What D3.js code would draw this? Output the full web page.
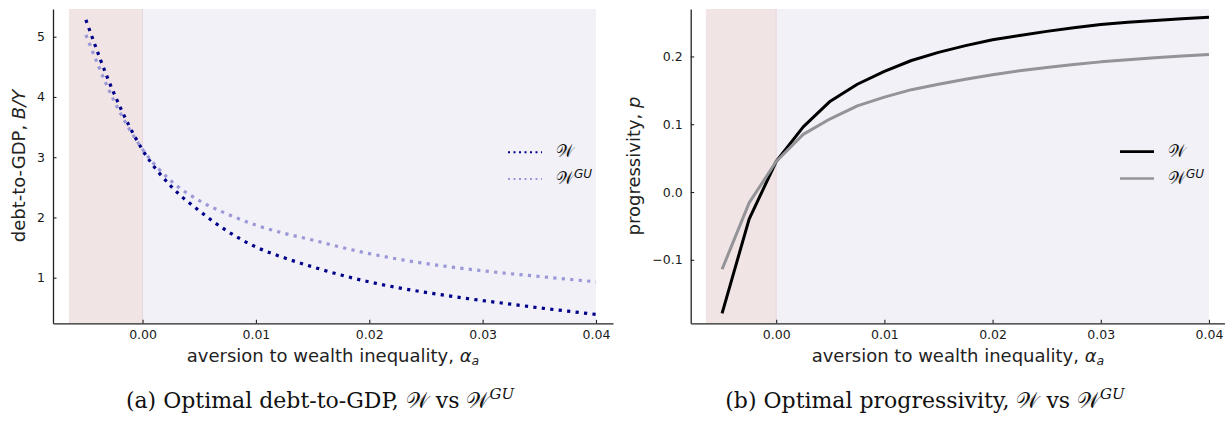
<!DOCTYPE html>
<html><head><meta charset="utf-8">
<script src="https://cdn.jsdelivr.net/npm/d3@7"></script>
<style>body{margin:0;background:#fff} svg{display:block}</style>
</head><body><svg id="c" width="1225" height="423"></svg>
<script>
// ---- data ----
const alpha = [-0.005, -0.0025, 0, 0.0025, 0.005, 0.0075, 0.01, 0.0125, 0.015, 0.0175, 0.02, 0.0225, 0.025, 0.0275, 0.03, 0.0325, 0.035, 0.0375, 0.04];
const debtW  = [5.28, 4.05, 3.12, 2.52, 2.11, 1.77, 1.51, 1.33, 1.18, 1.045, 0.93, 0.835, 0.755, 0.685, 0.62, 0.56, 0.50, 0.445, 0.39];
const debtGU = [5.03, 3.93, 3.13, 2.61, 2.28, 2.055, 1.873, 1.736, 1.625, 1.505, 1.40, 1.31, 1.235, 1.17, 1.115, 1.065, 1.02, 0.975, 0.932];
const progW  = [-0.179, -0.040, 0.045, 0.096, 0.134, 0.159, 0.178, 0.194, 0.206, 0.216, 0.2245, 0.231, 0.237, 0.2425, 0.247, 0.2505, 0.253, 0.2555, 0.2577];
const progGU = [-0.114, -0.016, 0.045, 0.085, 0.108, 0.127, 0.140, 0.151, 0.159, 0.1665, 0.173, 0.1788, 0.1838, 0.188, 0.192, 0.195, 0.198, 0.2005, 0.203];
const xTicks = [0, 0.01, 0.02, 0.03, 0.04];
const debtTicks = [1, 2, 3, 4, 5];
const progTicks = [-0.1, 0, 0.1, 0.2];
const shadeStart = -0.0065, shadeEnd = 0, bgEnd = 0.04;
const seriesLabel = "\u{1D4B2}";
const seriesSup = "GU";
const xLabel = "aversion to wealth inequality, ";
const captions = ["(a) Optimal debt-to-GDP, ", "(b) Optimal progressivity, "];

const svg = d3.select("#c");
svg.append("rect").attr("width",1225).attr("height",423).attr("fill","#fff");

const TOP = 9, BOT = 323.3;
const xDom = [-0.0079, 0.0415];

function panel(cfg){
  const g = svg.append("g");
  const x = d3.scaleLinear().domain(xDom).range([cfg.x0, cfg.x1]);
  const y = d3.scaleLinear().domain(cfg.yDom).range([BOT, TOP]);
  // backgrounds
  g.append("rect").attr("x", x(shadeEnd)).attr("y", TOP).attr("width", x(bgEnd)-x(shadeEnd)).attr("height", BOT-TOP).attr("fill", "#f2f1f8");
  g.append("rect").attr("x", x(shadeStart)).attr("y", TOP).attr("width", x(shadeEnd)-x(shadeStart)).attr("height", BOT-TOP).attr("fill", "#f1e4e5");
  g.append("line").attr("x1", x(0)).attr("x2", x(0)).attr("y1", TOP).attr("y2", BOT).attr("stroke","#e6d6dc").attr("stroke-width",1);
  // lines
  const line = d3.line().x((d,i)=>x(alpha[i])).y(d=>y(d)).curve(cfg.curve);
  cfg.series.forEach(s=>{
    g.append("path").attr("d", line(s.values)).attr("fill","none").attr("stroke", s.color)
      .attr("stroke-width", s.width).attr("stroke-dasharray", s.dash || null)
      .attr("stroke-linejoin","round");
  });
  // axes
  const ax = g.append("g").attr("transform", `translate(0,${BOT})`)
    .call(d3.axisBottom(x).tickValues(xTicks).tickFormat(d3.format(".2f")).tickSizeInner(-3.5).tickSizeOuter(0).tickPadding(7.3));
  const ay = g.append("g").attr("transform", `translate(${cfg.x0},0)`)
    .call(d3.axisLeft(y).tickValues(cfg.yTicks).tickFormat(cfg.yFmt).tickSizeInner(-3.5).tickSizeOuter(0).tickPadding(8));
  [ax, ay].forEach(a=>{
    a.selectAll("text").attr("font-family","DejaVu Sans").attr("font-size","12.5px").attr("fill","#1a1a1a");
    a.select(".domain").attr("stroke","#222").attr("stroke-width",1.3);
    a.selectAll(".tick line").attr("stroke","#222").attr("stroke-width",1.1);
  });
  // x label
  const xl = g.append("text").attr("x", (cfg.x0+cfg.x1)/2).attr("y", 362).attr("text-anchor","middle")
    .attr("font-family","DejaVu Sans").attr("font-size","18px").attr("fill","#222");
  xl.append("tspan").text(xLabel);
  xl.append("tspan").attr("font-style","italic").text("\u03B1");
  xl.append("tspan").attr("font-style","italic").attr("font-size","12.5px").attr("dy","3").text("a");
  // y label
  const yl = g.append("text").attr("transform", `translate(${cfg.yLabX},166) rotate(-90)`).attr("text-anchor","middle")
    .attr("font-family","DejaVu Sans").attr("font-size","18px").attr("fill","#222");
  yl.append("tspan").text(cfg.yLab[0]);
  yl.append("tspan").attr("font-style","italic").text(cfg.yLab[1]);
  // legend
  cfg.series.forEach((s,i)=>{
    const ly = cfg.legY + i*26.8;
    g.append("line").attr("x1", cfg.legX).attr("x2", cfg.legX+34).attr("y1", ly).attr("y2", ly)
      .attr("stroke", s.color).attr("stroke-width", s.legWidth).attr("stroke-dasharray", s.legDash || null);
    const t = g.append("text").attr("x", cfg.legX+48).attr("y", ly+5).attr("font-family","DejaVu Serif, serif").attr("font-size","17px").attr("fill","#111");
    t.append("tspan").text(seriesLabel);
    if(i===1) t.append("tspan").attr("font-family","DejaVu Sans").attr("font-style","italic").attr("font-size","12px").attr("dy","-6").text(seriesSup);
  });
  // caption
  const c = g.append("text").attr("x", cfg.capX).attr("y", 408).attr("text-anchor","middle")
    .attr("font-family","DejaVu Serif").attr("font-size","22px").attr("fill","#111");
  c.append("tspan").text(cfg.caption);
  c.append("tspan").text(seriesLabel);
  c.append("tspan").text(" vs ");
  c.append("tspan").text(seriesLabel);
  c.append("tspan").attr("font-style","italic").attr("font-size","15px").attr("dy","-9").text(seriesSup);
}

panel({x0:53, x1:613, yDom:[0.243, 5.46], yTicks:debtTicks, yFmt:d3.format("d"), yLabX:25, yLab:["debt-to-GDP, ","B/Y"],
  curve:d3.curveMonotoneX, legX:508, legY:152.3, capX:320, caption:captions[0],
  series:[{values:debtW, color:"#00008b", width:3.2, dash:"3.2,5.3", legWidth:2, legDash:"2,3.5"},
          {values:debtGU, color:"#9a98d6", width:3.2, dash:"3.2,5.3", legWidth:2, legDash:"2,3.5"}]});
panel({x0:690.7, x1:1225.2, yDom:[-0.1937, 0.270], yTicks:progTicks, yFmt:d3.format(".1f"), yLabX:640, yLab:["progressivity, ","p"],
  curve:d3.curveLinear, legX:1120, legY:151.7, capX:925, caption:captions[1],
  series:[{values:progW, color:"#000000", width:3, legWidth:2.7},
          {values:progGU, color:"#949397", width:3, legWidth:2.7}]});
</script></body></html>
